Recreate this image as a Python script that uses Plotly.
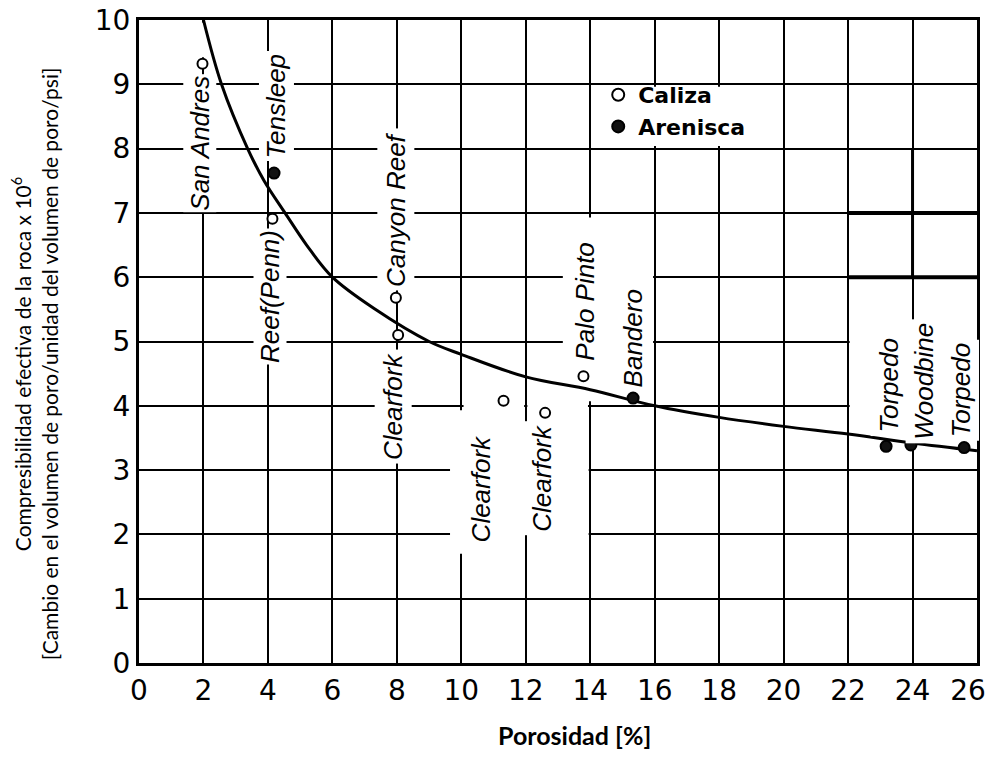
import plotly.graph_objects as go

# ---------------- data ----------------
curve_x = [2.0, 2.56, 3.37, 3.88, 4.53, 5.2, 6.0, 7.33, 9.0, 10.0, 12.0, 14.0, 16.0, 18.0, 20.0, 22.0, 24.0, 26.0]
curve_y = [10.0, 9.0, 8.0, 7.5, 7.0, 6.5, 6.0, 5.5, 5.0, 4.8, 4.45, 4.25, 4.0, 3.82, 3.68, 3.56, 3.42, 3.3]

caliza_names = ["San Andres", "Reef(Penn)", "Canyon Reef", "Clearfork", "Clearfork", "Clearfork", "Palo Pinto"]
caliza_x = [1.97, 4.14, 7.97, 8.04, 11.31, 12.6, 13.79]
caliza_y = [9.32, 6.91, 5.68, 5.10, 4.08, 3.89, 4.46]

arenisca_names = ["Tensleep", "Bandero", "Torpedo", "Woodbine", "Torpedo"]
arenisca_x = [4.19, 15.33, 23.18, 23.95, 25.6]
arenisca_y = [7.62, 4.12, 3.37, 3.39, 3.35]

# label anchor positions (data units) for the rotated well names
label_text = ["San Andres", "Tensleep", "Reef(Penn)", "Canyon Reef", "Clearfork", "Clearfork",
              "Clearfork", "Palo Pinto", "Bandero", "Torpedo", "Woodbine", "Torpedo"]
label_x = [1.9, 4.25, 4.08, 7.97, 7.9, 10.6, 12.5, 13.84, 15.33, 23.28, 24.37, 25.5]
label_y = [8.08, 8.67, 5.70, 7.06, 3.99, 2.71, 2.88, 5.62, 5.05, 4.32, 4.38, 4.24]
label_pad = [1, 2, 1, 3, 3, 3, 3, 3, 3, 3, 3, 3]

x_ticks = list(range(0, 27, 2))
x_ticktext = [str(v) for v in x_ticks[:-1]] + ["26\u00a0\u00a0"]
y_ticks = list(range(0, 11, 1))

# decorative heavy segments in the upper right of the chart
heavy_h_y = [7, 6]
heavy_h_x = [22, 26]
heavy_v_x = 24
heavy_v_y = [6, 8]

# blank (unruled) areas of the original grid paper: [x0, x1, y0, y1]
grid_gaps = [
    [9.65, 11.95, 1.93, 3.07],
    [12.05, 13.95, 1.93, 3.07],
    [9.93, 10.07, 1.7, 3.93],
    [10.07, 11.95, 3.93, 4.07],
    [12.05, 13.93, 3.93, 4.07],
    [13.15, 15.95, 4.07, 6.93],
    [22.05, 25.93, 3.6, 5.3],
    [1.9, 2.1, 9.42, 9.96],
    [14.07, 19.93, 8.04, 8.96],
]

x_title = "Porosidad [%]"
y_title = ("Compresibilidad efectiva de la roca x 10<sup>6</sup><br>"
           "[Cambio en el volumen de poro/unidad del volumen de poro/psi]")

# ---------------- figure ----------------
fig = go.Figure()

fig.add_trace(go.Scatter(
    x=curve_x, y=curve_y, mode="lines",
    line=dict(color="black", width=3, shape="spline", smoothing=1.0),
    showlegend=False, hoverinfo="skip"))

fig.add_trace(go.Scatter(
    x=caliza_x, y=caliza_y, mode="markers", name="Caliza", text=caliza_names,
    marker=dict(symbol="circle", size=10, color="white", line=dict(color="black", width=2))))

fig.add_trace(go.Scatter(
    x=arenisca_x, y=arenisca_y, mode="markers", name="Arenisca", text=arenisca_names,
    marker=dict(symbol="circle", size=11, color="#111111", line=dict(color="black", width=2))))

label_font = dict(family="Liberation Sans", size=26, color="black", style="italic")
for t, lx, ly, lp in zip(label_text, label_x, label_y, label_pad):
    fig.add_annotation(x=lx, y=ly, xref="x", yref="y", text=t, showarrow=False,
                       textangle=-90, font=label_font, bgcolor="white", borderpad=lp)

for gx0, gx1, gy0, gy1 in grid_gaps:
    fig.add_shape(type="rect", x0=gx0, x1=gx1, y0=gy0, y1=gy1, xref="x", yref="y",
                  fillcolor="white", line=dict(width=0), layer="between")

for hy in heavy_h_y:
    fig.add_shape(type="line", x0=heavy_h_x[0], x1=heavy_h_x[1], y0=hy, y1=hy,
                  xref="x", yref="y", line=dict(color="black", width=4))
fig.add_shape(type="line", x0=heavy_v_x, x1=heavy_v_x, y0=heavy_v_y[0], y1=heavy_v_y[1],
              xref="x", yref="y", line=dict(color="black", width=3))

# the page body adds an 8px offset; figure is sized to fit the window
fig.add_annotation(x=0.52, y=-0.112, xref="paper", yref="paper", text="<b>" + x_title + "</b>",
                   showarrow=False, xanchor="center", yanchor="middle",
                   font=dict(family="Lato", size=25, color="black"))

fig.add_annotation(x=-0.125, y=0.465, xref="paper", yref="paper", text=y_title,
                   showarrow=False, textangle=-90, xanchor="center", yanchor="middle",
                   font=dict(family="Lato", size=21, color="black"))

tick_font = dict(family="DejaVu Sans", size=28, color="black")

fig.update_layout(
    width=982, height=745,
    margin=dict(l=131, r=13, t=12, b=90, autoexpand=False),
    paper_bgcolor="white", plot_bgcolor="white",
    legend=dict(x=0.548, y=0.916, xanchor="left", yanchor="top", bgcolor="rgba(0,0,0,0)",
                font=dict(family="DejaVu Sans", size=22, color="black", weight="bold"),
                itemsizing="constant", tracegroupgap=0),
    xaxis=dict(range=[0, 26], tickvals=x_ticks, ticktext=x_ticktext, automargin=False,
               showgrid=True, gridcolor="black", gridwidth=2, zeroline=False,
               showline=True, linecolor="black", linewidth=3, mirror=True,
               ticks="", tickfont=tick_font, ticklabeloverflow="allow"),
    yaxis=dict(range=[0, 10], tickvals=y_ticks, ticktext=[str(v) for v in y_ticks], automargin=False,
               showgrid=True, gridcolor="black", gridwidth=2, zeroline=False,
               showline=True, linecolor="black", linewidth=3, mirror=True,
               ticks="", tickfont=tick_font, ticklabeloverflow="allow"),
)

fig.write_html("out.html")
